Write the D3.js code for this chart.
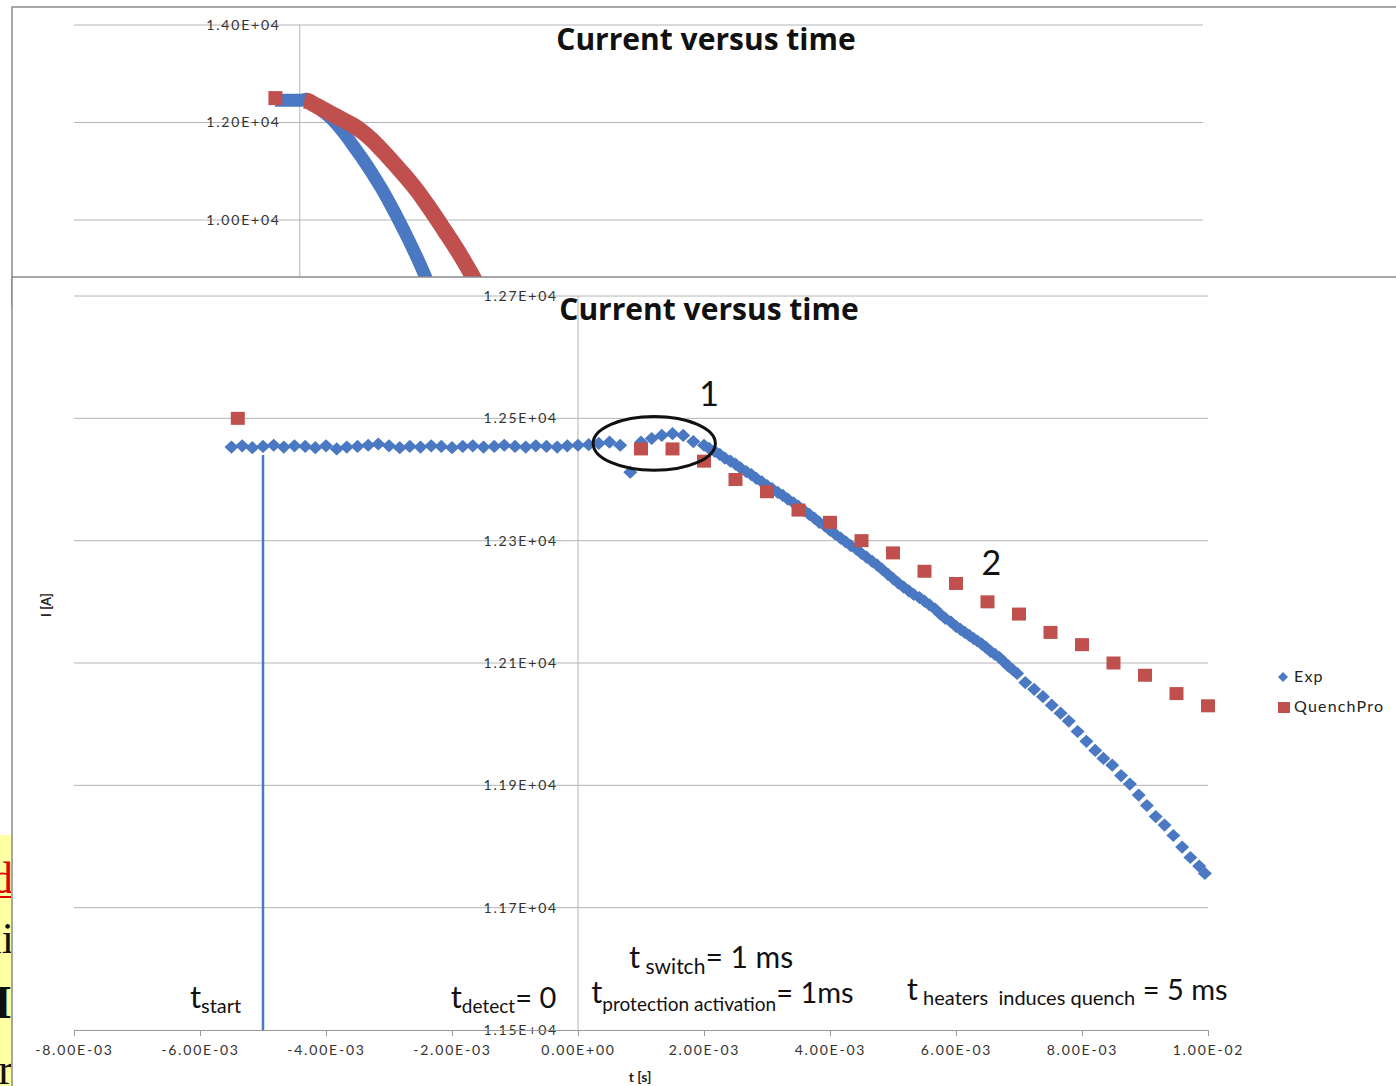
<!DOCTYPE html>
<html>
<head>
<meta charset="utf-8">
<script src="https://cdn.jsdelivr.net/npm/d3@7"></script>
<style>
  html, body { margin: 0; padding: 0; background: #fff; }
  svg { display: block; }
  .sans { font-family: Lato, "Open Sans", sans-serif; }
  .serif { font-family: "Liberation Serif", "DejaVu Serif", serif; }
  .title { font-family: "Open Sans", Lato, sans-serif; font-weight: bold; }
</style>
</head>
<body>
<svg id="chart" width="1396" height="1086"></svg>
<script>
// ---------------------------------------------------------------
// Data: measured current (Exp) and QuenchPro simulation, time in ms
// ---------------------------------------------------------------
const expTimeMs = [
  -5.50, -5.33, -5.17, -5.00, -4.83, -4.67, -4.50, -4.33, -4.17, -4.00,
  -3.83, -3.67, -3.50, -3.33, -3.17, -3.00, -2.83, -2.67, -2.50, -2.33,
  -2.17, -2.00, -1.83, -1.67, -1.50, -1.33, -1.17, -1.00, -0.83, -0.67,
  -0.50, -0.33, -0.17, 0.00,
  0.17, 0.33, 0.50, 0.67, 0.83, 1.00, 1.17, 1.33, 1.50, 1.67, 1.83,
  2.00, 2.08, 2.17, 2.25, 2.33, 2.42, 2.50, 2.58, 2.67, 2.75, 2.83, 2.92,
  3.00, 3.08, 3.17, 3.25, 3.33, 3.42, 3.50, 3.58, 3.67, 3.75, 3.83, 3.92,
  4.00, 4.08, 4.17, 4.25, 4.33, 4.42, 4.50, 4.58, 4.67, 4.75, 4.83, 4.92,
  5.00, 5.08, 5.17, 5.25, 5.33, 5.42, 5.50, 5.58, 5.67, 5.75, 5.83, 5.92,
  6.00, 6.07, 6.14, 6.21, 6.28, 6.34, 6.41, 6.48, 6.55, 6.62, 6.69, 6.76,
  6.83, 6.90, 6.97,
  7.10, 7.24, 7.38, 7.52, 7.66, 7.79, 7.93, 8.07, 8.21, 8.34,
  8.48, 8.62, 8.76, 8.90, 9.03, 9.17, 9.31, 9.45, 9.59, 9.72,
  9.86, 9.95
];
const expCurrent = [
  12453, 12455, 12452, 12454, 12456, 12453, 12455, 12454, 12452, 12455,
  12450, 12453, 12454, 12456, 12458, 12455, 12452, 12454, 12453, 12455,
  12454, 12452, 12454, 12455, 12453, 12454, 12456, 12454, 12453, 12455,
  12454, 12453, 12455, 12456,
  12457, 12459, 12461, 12456, 12412, 12461, 12467, 12472, 12475, 12472, 12462,
  12456, 12451, 12446, 12441, 12435, 12430, 12425, 12419, 12413, 12408, 12402, 12396,
  12390, 12385, 12379, 12374, 12368, 12362, 12356, 12350, 12343, 12337, 12330, 12324,
  12317, 12311, 12304, 12298, 12292, 12286, 12279, 12273, 12266, 12260, 12253, 12245,
  12238, 12231, 12224, 12218, 12212, 12207, 12201, 12195, 12188, 12180, 12173, 12167,
  12160, 12155, 12150, 12145, 12140, 12136, 12131, 12125, 12119, 12114, 12109, 12102,
  12095, 12089, 12083,
  12068, 12057, 12045, 12031, 12018, 12005, 11988, 11972, 11957, 11944,
  11933, 11916, 11902, 11884, 11867, 11849, 11835, 11818, 11799, 11782,
  11768, 11756
];

const quenchTimeMs = [-5.4, 1.0, 1.5, 2.0, 2.5, 3.0, 3.5, 4.0, 4.5, 5.0,
  5.5, 6.0, 6.5, 7.0, 7.5, 8.0, 8.5, 9.0, 9.5, 10.0];
const quenchCurrent = [12500, 12450, 12450, 12430, 12400, 12380, 12350, 12330, 12300, 12280,
  12250, 12230, 12200, 12180, 12150, 12130, 12100, 12080, 12050, 12030];

// Longer discharge shown in the overview panel
const overviewExpTimeMs = [-5.5, 0, 1.5, 2, 3, 5, 7, 10, 12, 14, 16, 18, 20, 22, 24, 26, 28, 30];
const overviewExpCurrent = [12455, 12455, 12475, 12456, 12390, 12238, 12080, 11756, 11500, 11240,
  10960, 10660, 10330, 9980, 9610, 9220, 8800, 8360];
const overviewQuenchTimeMs = [1, 2, 3, 4, 5, 6, 7, 8, 9, 10, 12, 14, 16, 18, 20, 22, 24, 26,
  28, 30, 32, 34, 36, 38, 40];
const overviewQuenchCurrent = [12450, 12430, 12380, 12330, 12280, 12230, 12180, 12130, 12080, 12030,
  11930, 11800, 11640, 11450, 11250, 11040, 10830, 10600, 10340, 10070, 9790, 9510, 9210, 8890, 8550];
const overviewQuenchStart = { t: -5.4, current: 12500 };

// Axis ticks
const currentTicks = [11500, 11700, 11900, 12100, 12300, 12500, 12700];
const timeTicksMs = [-8, -6, -4, -2, 0, 2, 4, 6, 8, 10];
const overviewCurrentTicks = [8000, 10000, 12000, 14000];

const chartTitle = "Current versus time";
const seriesNames = ["Exp", "QuenchPro"];
const detectionStartMs = -5.0;          // t_start marker
const detectionStartTop = 12440;
const circledRegion = { t: 1.21, current: 12459, halfWidthMs: 0.97, halfHeightA: 44 };

// ---------------------------------------------------------------
const BLUE = "#4a78c2", RED = "#c0504d", GRID = "#b4b4b4", FRAME = "#8a8a8a";
const TICK_FONT = 14, TICK_SPACING = 1.8;

const fmtE = v => {
  const [m, e] = v.toExponential(2).split("e");
  const n = +e;
  return m + "E" + (n < 0 ? "-" : "+") + String(Math.abs(n)).padStart(2, "0");
};

const svg = d3.select("#chart");
const defs = svg.append("defs");

// --- yellow note strip at the left edge of the slide -------------
defs.append("clipPath").attr("id", "stripClip")
  .append("rect").attr("x", 0).attr("y", 835).attr("width", 11).attr("height", 251);
svg.append("rect").attr("x", 0).attr("y", 835).attr("width", 12).attr("height", 251)
  .attr("fill", "#ffffa4");
const strip = svg.append("g").attr("clip-path", "url(#stripClip)");
strip.append("text").attr("class", "serif").attr("x", 13).attr("y", 893).attr("text-anchor", "end")
  .attr("font-size", 44).attr("fill", "#e00000").text("d");
strip.append("line").attr("x1", 0).attr("x2", 12).attr("y1", 897).attr("y2", 897)
  .attr("stroke", "#e00000").attr("stroke-width", 2);
strip.append("text").attr("class", "serif").attr("x", 14).attr("y", 953).attr("text-anchor", "end")
  .attr("font-size", 44).attr("fill", "#111").text("ii");
strip.append("text").attr("class", "serif").attr("x", 11).attr("y", 1018).attr("text-anchor", "end")
  .attr("font-size", 46).attr("font-weight", "bold").attr("fill", "#111").text("H");
strip.append("text").attr("class", "serif").attr("x", 13).attr("y", 1084).attr("text-anchor", "end")
  .attr("font-size", 44).attr("fill", "#111").text("r");

// ================= Overview panel (upper chart) ===================
const ovX = d3.scaleLinear().domain([-50, 200]).range([74, 1203]);
const ovY = d3.scaleLinear().domain([10000, 14000]).range([220, 25]);

svg.append("rect").attr("x", 12).attr("y", 7).attr("width", 1400).attr("height", 300)
  .attr("fill", "#fff").attr("stroke", FRAME).attr("stroke-width", 1.5);
defs.append("clipPath").attr("id", "ovClip")
  .append("rect").attr("x", 13).attr("y", 8).attr("width", 1383).attr("height", 269);
const ov = svg.append("g").attr("clip-path", "url(#ovClip)");

ov.selectAll("line.grid").data(overviewCurrentTicks).join("line")
  .attr("x1", 74).attr("x2", 1203)
  .attr("y1", d => ovY(d)).attr("y2", d => ovY(d))
  .attr("stroke", GRID).attr("stroke-width", 1);
ov.append("line").attr("x1", ovX(0)).attr("x2", ovX(0))
  .attr("y1", ovY(14000)).attr("y2", 300).attr("stroke", GRID).attr("stroke-width", 1);
ov.selectAll("text.tick").data(overviewCurrentTicks).join("text")
  .attr("class", "sans")
  .attr("x", ovX(0) - 19).attr("y", d => ovY(d)).attr("dy", "0.35em")
  .attr("text-anchor", "end").attr("font-size", TICK_FONT).attr("letter-spacing", TICK_SPACING)
  .attr("fill", "#333").text(d => fmtE(d));

const ovLine = d3.line().curve(d3.curveMonotoneX).x(d => ovX(d[0])).y(d => ovY(d[1]));
ov.append("path").datum(d3.zip(overviewExpTimeMs, overviewExpCurrent))
  .attr("d", ovLine).attr("fill", "none").attr("stroke", BLUE).attr("stroke-width", 13);
ov.append("path").datum(d3.zip(overviewQuenchTimeMs, overviewQuenchCurrent))
  .attr("d", ovLine).attr("fill", "none").attr("stroke", RED).attr("stroke-width", 16);
ov.append("rect")
  .attr("x", ovX(overviewQuenchStart.t) - 7).attr("y", ovY(overviewQuenchStart.current) - 7)
  .attr("width", 14).attr("height", 14).attr("fill", RED);

svg.append("text").attr("class", "title").attr("x", 706).attr("y", 50).attr("text-anchor", "middle")
  .attr("font-size", 30).attr("fill", "#111").text(chartTitle);

// ================= Main panel (lower chart) =======================
const x = d3.scaleLinear().domain([-8, 10]).range([74, 1208]);
const y = d3.scaleLinear().domain([11500, 12700]).range([1030, 296]);

svg.append("rect").attr("x", 12).attr("y", 277).attr("width", 1400).attr("height", 830)
  .attr("fill", "#fff").attr("stroke", FRAME).attr("stroke-width", 1.5);

const main = svg.append("g");

// gridlines
main.selectAll("line.grid").data(currentTicks.filter(d => d > 11500)).join("line")
  .attr("x1", x(-8)).attr("x2", x(10))
  .attr("y1", d => y(d)).attr("y2", d => y(d))
  .attr("stroke", GRID).attr("stroke-width", 1);
// vertical axis through t = 0
main.append("line").attr("x1", x(0)).attr("x2", x(0))
  .attr("y1", y(12700)).attr("y2", y(11500)).attr("stroke", GRID).attr("stroke-width", 1);
main.selectAll("text.ytick").data(currentTicks).join("text")
  .attr("class", "sans")
  .attr("x", x(0) - 20).attr("y", d => y(d)).attr("dy", "0.35em")
  .attr("text-anchor", "end").attr("font-size", TICK_FONT).attr("letter-spacing", TICK_SPACING)
  .attr("fill", "#333").text(d => fmtE(d));

// horizontal axis
const xAxis = d3.axisBottom(x).tickValues(timeTicksMs).tickSize(6).tickSizeOuter(0)
  .tickFormat(d => fmtE(d / 1000));
const xg = main.append("g").attr("transform", `translate(0,${y(11500)})`).call(xAxis);
xg.attr("font-family", null).attr("font-size", null);
xg.select(".domain").attr("stroke", "#9a9a9a");
xg.selectAll(".tick line").attr("stroke", "#9a9a9a");
xg.selectAll(".tick text").attr("class", "sans").attr("font-size", TICK_FONT)
  .attr("letter-spacing", TICK_SPACING).attr("fill", "#333").attr("y", 15);

main.append("text").attr("class", "sans").attr("x", 640).attr("y", 1082).attr("text-anchor", "middle")
  .attr("font-size", 14).attr("font-weight", "bold").attr("fill", "#222").text("t [s]");
main.append("text").attr("class", "sans").attr("transform", "translate(51,605) rotate(-90)")
  .attr("text-anchor", "middle").attr("font-size", 13).attr("font-weight", "bold")
  .attr("fill", "#222").text("I [A]");

main.append("text").attr("class", "title").attr("x", 709).attr("y", 320).attr("text-anchor", "middle")
  .attr("font-size", 30).attr("fill", "#111").text(chartTitle);

// t_start marker line
main.append("line").attr("x1", x(detectionStartMs)).attr("x2", x(detectionStartMs))
  .attr("y1", y(detectionStartTop)).attr("y2", y(11500))
  .attr("stroke", BLUE).attr("stroke-width", 2.5);

// series
const diamond = "M0,-6.6L7,0L0,6.6L-7,0Z";
main.append("g").selectAll("path").data(d3.zip(expTimeMs, expCurrent)).join("path")
  .attr("d", diamond)
  .attr("transform", d => `translate(${x(d[0])},${y(d[1])})`)
  .attr("fill", BLUE);
main.append("g").selectAll("rect").data(d3.zip(quenchTimeMs, quenchCurrent)).join("rect")
  .attr("x", d => x(d[0]) - 7).attr("y", d => y(d[1]) - 6.5)
  .attr("width", 14).attr("height", 13).attr("fill", RED);

// circled region around the current rise
main.append("ellipse")
  .attr("cx", x(circledRegion.t)).attr("cy", y(circledRegion.current))
  .attr("rx", x(circledRegion.t + circledRegion.halfWidthMs) - x(circledRegion.t))
  .attr("ry", y(circledRegion.current - circledRegion.halfHeightA) - y(circledRegion.current))
  .attr("fill", "none").attr("stroke", "#111").attr("stroke-width", 3);

main.append("text").attr("class", "sans").attr("x", x(2.08)).attr("y", y(12520)).attr("text-anchor", "middle")
  .attr("font-size", 34).attr("fill", "#111").text("1");
main.append("text").attr("class", "sans").attr("x", x(6.56)).attr("y", y(12244)).attr("text-anchor", "middle")
  .attr("font-size", 34).attr("fill", "#111").text("2");

// timing annotations with subscripts
function richLabel(tMs, current, parts) {
  const t = main.append("text").attr("class", "sans").attr("x", x(tMs)).attr("y", y(current))
    .attr("fill", "#111").style("white-space", "pre");
  let prev = 0;
  parts.forEach(p => {
    const off = p.off || 0;
    t.append("tspan").attr("dy", off - prev).attr("font-size", p.size).text(p.text);
    prev = off;
  });
}
richLabel(-6.16, 11536, [{ text: "t", size: 31 }, { text: "start", size: 20, off: 5 }]);
richLabel(-2.02, 11536, [{ text: "t", size: 31 }, { text: "detect", size: 19, off: 5 },
  { text: "= 0", size: 29, off: 0 }]);
richLabel(0.81, 11601, [{ text: "t", size: 31 }, { text: " switch", size: 21, off: 6 },
  { text: "= 1 ms", size: 30, off: 0 }]);
richLabel(0.21, 11544, [{ text: "t", size: 31 }, { text: "protection activation", size: 19, off: 8 },
  { text: "= 1ms", size: 29, off: 0 }]);
richLabel(5.22, 11549, [{ text: "t", size: 31 }, { text: " heaters  induces quench", size: 20, off: 5 },
  { text: " = 5 ms", size: 29, off: 0 }]);

// legend
const legend = main.append("g");
legend.append("path").attr("d", "M0,-5L5,0L0,5L-5,0Z")
  .attr("transform", "translate(1283,677)").attr("fill", BLUE);
legend.append("rect").attr("x", 1278).attr("y", 702).attr("width", 12).attr("height", 11)
  .attr("fill", RED);
legend.selectAll("text").data(seriesNames).join("text")
  .attr("class", "sans")
  .attr("x", 1294).attr("y", (d, i) => 682 + i * 30)
  .attr("font-size", 16).attr("letter-spacing", 1.2).attr("fill", "#222").text(d => d);
</script>
</body>
</html>
